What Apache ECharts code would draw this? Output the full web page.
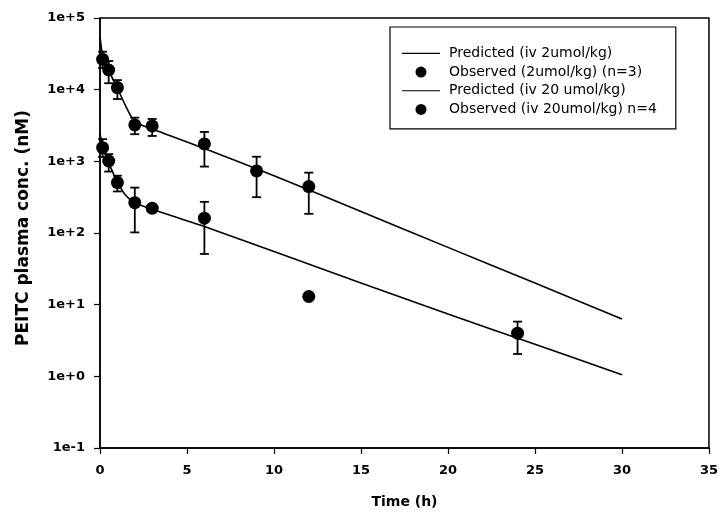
<!DOCTYPE html>
<html>
<head>
<meta charset="utf-8">
<script src="https://cdn.jsdelivr.net/npm/echarts@6/dist/echarts.min.js"></script>
<style>
  html, body { margin: 0; padding: 0; background: #fff; }
  #main { width: 721px; height: 516px; }
</style>
</head>
<body>
<div id="main"></div>
<script>
// predicted curves (nM)
var predTime = [0, 0.1, 0.25, 0.5, 0.75, 1, 1.5, 2, 3, 4, 6, 10, 15, 20, 25, 30];
var predHigh = [55000, 35500, 26300, 19000, 13800, 10500, 5750, 3550, 2820, 2290, 1510, 630, 200, 63, 20, 6.3];
var predLow = [2500, 1780, 1350, 955, 690, 510, 330, 263, 214, 178, 123, 55, 20, 7.4, 2.8, 1.05];

// observed, high dose
var obsHighTime = [0.15, 0.5, 1, 2, 3, 6, 9, 12];
var obsHighMean = [26500, 18800, 10700, 3220, 3120, 1750, 735, 444];
var obsHighLo = [20000, 12300, 7400, 2390, 2260, 845, 316, 185];
var obsHighHi = [33900, 25100, 13600, 4070, 3900, 2570, 1160, 695];

// observed, low dose
var obsLowTime = [0.15, 0.5, 1, 2, 3, 6, 12, 24];
var obsLowMean = [1550, 1010, 505, 265, 222, 161, 13, 4.0];
var obsLowLo = [1150, 720, 380, 102, 195, 51, null, 2.05];
var obsLowHi = [2040, 1260, 630, 430, 240, 272, null, 5.8];

var legendNames = [
    'Predicted (iv 2umol/kg)',
    'Observed (2umol/kg) (n=3)',
    'Predicted (iv 20 umol/kg)',
    'Observed (iv 20umol/kg) n=4'
];

function pairs(xs, ys) {
    return xs.map(function (x, i) { return [x, ys[i]]; });
}

function bars(xs, lo, hi) {
    var out = [];
    xs.forEach(function (x, i) {
        if (lo[i] != null) out.push([x, lo[i], hi[i]]);
    });
    return out;
}

function renderBar(params, api) {
    var top = api.coord([api.value(0), api.value(2)]);
    var bot = api.coord([api.value(0), api.value(1)]);
    var w = 4.5;
    var st = { stroke: '#000', lineWidth: 1.8 };
    return {
        type: 'group',
        children: [
            { type: 'line', shape: { x1: top[0], y1: top[1], x2: bot[0], y2: bot[1] }, style: st },
            { type: 'line', shape: { x1: top[0] - w, y1: top[1], x2: top[0] + w, y2: top[1] }, style: st },
            { type: 'line', shape: { x1: bot[0] - w, y1: bot[1], x2: bot[0] + w, y2: bot[1] }, style: st }
        ]
    };
}

var lineIcon = 'path://M0,0h38v1.2h-38z';
var font = 'DejaVu Sans, sans-serif';
var myChart = echarts.init(document.getElementById('main'));
myChart.setOption({
    animation: false,
    backgroundColor: '#fff',
    grid: {
        left: 100, right: 10, top: 18, bottom: 68,
        show: true, borderColor: '#000', borderWidth: 1.5
    },
    legend: {
        data: [
            { name: legendNames[0], icon: lineIcon },
            { name: legendNames[1], icon: 'circle' },
            { name: legendNames[2], icon: lineIcon },
            { name: legendNames[3], icon: 'circle' }
        ],
        orient: 'vertical',
        left: 390, top: 27,
        padding: [17, 19, 10, 12],
        itemGap: 0,
        itemWidth: 38,
        itemHeight: 11,
        borderColor: '#000',
        borderWidth: 1.2,
        textStyle: { fontFamily: font, fontSize: 14, color: '#000', lineHeight: 18.7, padding: [0, 0, 0, 4] }
    },
    xAxis: {
        type: 'value',
        min: 0, max: 35, interval: 5,
        name: 'Time (h)',
        nameLocation: 'middle',
        nameGap: 47,
        nameTextStyle: { fontFamily: font, fontSize: 14, fontWeight: 'bold', color: '#000' },
        axisLine: { lineStyle: { color: '#000', width: 1.5 } },
        axisTick: { inside: false, length: 6, lineStyle: { color: '#000', width: 1.2 } },
        axisLabel: { fontFamily: font, fontSize: 13, fontWeight: 'bold', color: '#000', margin: 16 },
        splitLine: { show: false }
    },
    yAxis: {
        type: 'log',
        logBase: 10,
        min: 0.1, max: 100000,
        interval: 1,
        name: 'PEITC plasma conc. (nM)',
        nameLocation: 'middle',
        nameGap: 68,
        nameTextStyle: { fontFamily: font, fontSize: 17, fontWeight: 'bold', color: '#000', padding: [0, 0, 0, 10] },
        axisLine: { lineStyle: { color: '#000', width: 1.5 } },
        axisTick: { inside: false, length: 6, lineStyle: { color: '#000', width: 1.2 } },
        axisLabel: {
            fontFamily: font, fontSize: 13, fontWeight: 'bold', color: '#000', margin: 15,
            formatter: function (v) {
                var e = Math.round(Math.log10(v));
                return '1e' + (e >= 0 ? '+' : '') + e;
            }
        },
        splitLine: { show: false }
    },
    series: [
        {
            name: legendNames[0], type: 'line', data: pairs(predTime, predHigh),
            symbol: 'none', smooth: 0.2,
            lineStyle: { color: '#000', width: 1.6 }, itemStyle: { color: '#000' }
        },
        {
            name: legendNames[1], type: 'scatter', data: pairs(obsHighTime, obsHighMean),
            symbolSize: 13, itemStyle: { color: '#000', opacity: 1 }, z: 5
        },
        {
            name: legendNames[2], type: 'line', data: pairs(predTime, predLow),
            symbol: 'none', smooth: 0.2,
            lineStyle: { color: '#000', width: 1.6 }, itemStyle: { color: '#000' }
        },
        {
            name: legendNames[3], type: 'scatter', data: pairs(obsLowTime, obsLowMean),
            symbolSize: 13, itemStyle: { color: '#000', opacity: 1 }, z: 5
        },
        {
            name: 'errHigh', type: 'custom', renderItem: renderBar,
            data: bars(obsHighTime, obsHighLo, obsHighHi), z: 4
        },
        {
            name: 'errLow', type: 'custom', renderItem: renderBar,
            data: bars(obsLowTime, obsLowLo, obsLowHi), z: 4
        }
    ]
});
</script>
</body>
</html>
